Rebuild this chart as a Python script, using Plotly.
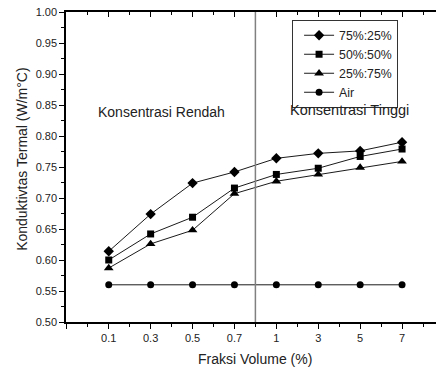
import plotly.graph_objects as go

categories = ["0.1", "0.3", "0.5", "0.7", "1", "3", "5", "7"]
s75_25 = [0.614, 0.674, 0.724, 0.742, 0.764, 0.772, 0.776, 0.790]
s50_50 = [0.600, 0.642, 0.669, 0.716, 0.738, 0.748, 0.767, 0.779]
s25_75 = [0.587, 0.626, 0.648, 0.707, 0.727, 0.738, 0.749, 0.759]
air = [0.56, 0.56, 0.56, 0.56, 0.56, 0.56, 0.56, 0.56]
y_ticks = [0.50, 0.55, 0.60, 0.65, 0.70, 0.75, 0.80, 0.85, 0.90, 0.95, 1.00]

xpos = list(range(len(categories)))
split_pos = 3.5
FONT = "Liberation Sans, Arial, sans-serif"

series = [
    ("75%:25%", s75_25, "diamond", 8),
    ("50%:50%", s50_50, "square", 7),
    ("25%:75%", s25_75, "triangle-up", 8.5),
    ("Air", air, "circle", 7),
]

fig = go.Figure()
for name, vals, sym, size in series:
    fig.add_trace(go.Scatter(
        x=xpos, y=vals, name=name, mode="lines+markers",
        line=dict(color="black", width=0.9),
        marker=dict(symbol=sym, size=size, color="black"),
    ))

# vertical divider
fig.add_shape(type="line", xref="x", yref="paper", x0=split_pos, x1=split_pos,
              y0=0, y1=1, line=dict(color="#808080", width=1.5))

# invisible trace for top axis
fig.add_trace(go.Scatter(x=[xpos[0]], y=[0.56], xaxis="x2", showlegend=False,
                         mode="markers", marker=dict(opacity=0), hoverinfo="skip"))

tickvals = [-1] + xpos
ticktext = [""] + categories
minor_vals = [p - 0.5 for p in xpos] + [xpos[-1] + 0.5]
xrange = [-1.02, 7.81]

fig.update_layout(
    width=436, height=371,
    margin=dict(l=66, r=0, t=12, b=49, autoexpand=False),
    plot_bgcolor="white", paper_bgcolor="white",
    font=dict(family=FONT, color="#222222"),
    showlegend=True,
    legend=dict(
        x=0.611, y=0.975, xanchor="left", yanchor="top",
        bordercolor="#333333", borderwidth=1, bgcolor="white",
        font=dict(size=12.3, family=FONT, color="#222222"),
        tracegroupgap=0, indentation=6,
    ),
    xaxis=dict(
        range=xrange, tickmode="array", tickvals=tickvals, ticktext=ticktext,
        ticks="outside", ticklen=5, tickwidth=1.2, tickcolor="black",
        showline=True, linecolor="black", linewidth=1.5,
        showgrid=False, zeroline=False, automargin=False,
        ticklabeloverflow="allow",
        tickfont=dict(size=11, family=FONT, color="#222222"),
        minor=dict(tickvals=minor_vals, ticks="outside", ticklen=3, tickwidth=1, tickcolor="black", showgrid=False),
    ),
    xaxis2=dict(
        range=xrange, overlaying="x", side="top", anchor="y",
        tickmode="array", tickvals=tickvals,
        ticks="inside", ticklen=5, tickwidth=1.2, tickcolor="black",
        showticklabels=False, showline=True, linecolor="black", linewidth=1.5,
        showgrid=False, zeroline=False, automargin=False,
        minor=dict(tickvals=minor_vals, ticks="inside", ticklen=3, tickwidth=1, tickcolor="black", showgrid=False),
    ),
    yaxis=dict(
        range=[0.5, 1.0], tickmode="array", tickvals=y_ticks,
        ticktext=[f"{v:.2f}" for v in y_ticks],
        ticks="outside", ticklen=5, tickwidth=1.2, tickcolor="black",
        showline=True, linecolor="black", linewidth=1.5,
        showgrid=False, zeroline=False, automargin=False,
        ticklabeloverflow="allow",
        tickfont=dict(size=11, family=FONT, color="#222222"),
        minor=dict(dtick=0.025, tick0=0.5, ticks="outside", ticklen=3, tickwidth=1, tickcolor="black", showgrid=False),
    ),
    annotations=[
        dict(text="Konduktivtas Termal (W/m°C)", xref="paper", yref="paper",
             x=-0.121, y=0.527, xanchor="center", yanchor="middle", textangle=-90,
             showarrow=False, font=dict(size=14, family=FONT, color="#222222")),
        dict(text="Fraksi Volume (%)", xref="paper", yref="paper",
             x=0.512, y=-0.119, xanchor="center", yanchor="middle",
             showarrow=False, font=dict(size=14, family=FONT, color="#222222")),
        dict(text="Konsentrasi Rendah", xref="paper", yref="paper",
             x=0.259, y=0.678, xanchor="center", yanchor="middle",
             showarrow=False, font=dict(size=14, family=FONT, color="#222222")),
        dict(text="Konsentrasi Tinggi", xref="paper", yref="paper",
             x=0.766, y=0.684, xanchor="center", yanchor="middle",
             showarrow=False, font=dict(size=14.5, family=FONT, color="#222222")),
    ],
)

fig.write_html(
    "out.html",
    config={"displayModeBar": False},
    post_script="document.body.style.margin='0';document.body.style.padding='0';document.body.style.overflow='hidden';",
)
